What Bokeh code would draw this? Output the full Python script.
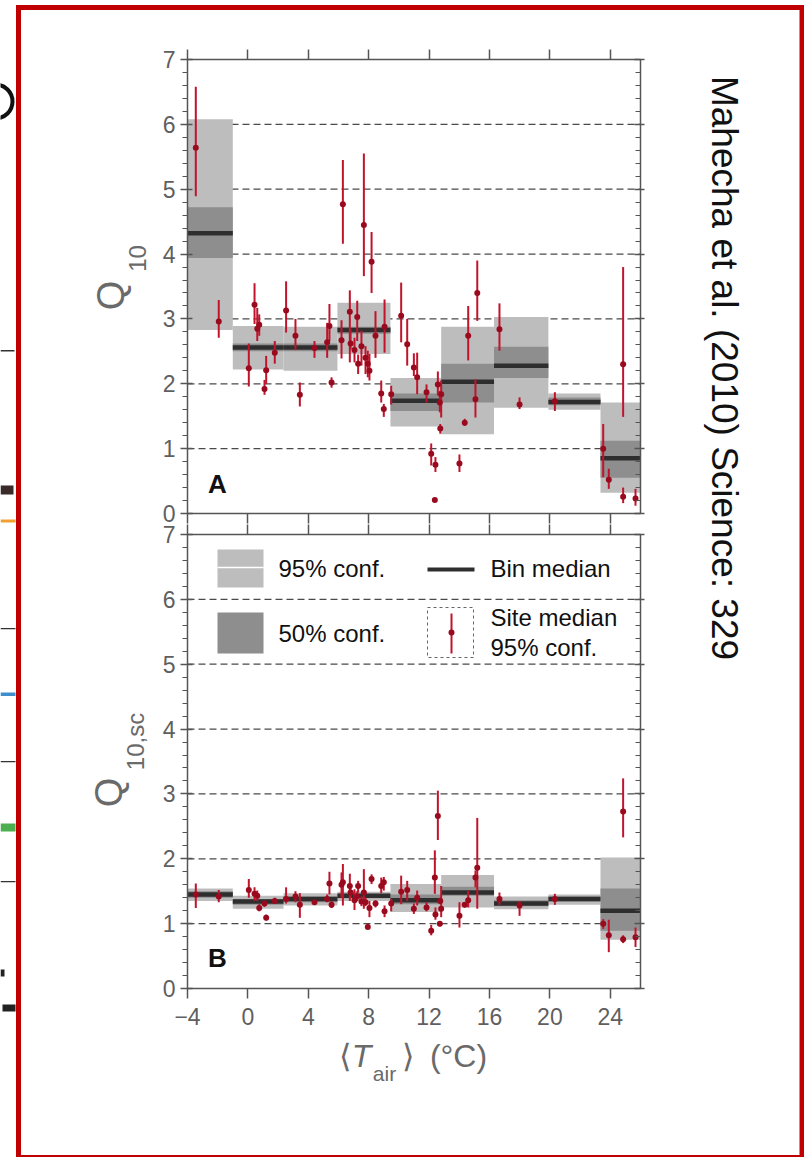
import math
from bokeh.plotting import figure
from bokeh.models import Range1d, LinearAxis, SingleIntervalTicker, FixedTicker, Label
from bokeh.embed import file_html
from bokeh.resources import INLINE

# ---------------- data ----------------
bin_edges = [-4.0, -1.0, 2.36, 5.93, 9.44, 12.8, 16.3, 19.9, 23.35, 26.0]

A_lo95 = [2.83, 2.22, 2.20, 2.46, 1.34, 1.22, 1.63, 1.60, 0.32]
A_hi95 = [6.08, 2.89, 2.88, 3.25, 2.09, 2.88, 3.03, 1.85, 1.71]
A_lo50 = [3.94, 2.50, 2.50, 2.77, 1.58, 1.71, 2.09, 1.67, 0.55]
A_hi50 = [4.72, 2.62, 2.62, 2.88, 1.85, 2.31, 2.57, 1.79, 1.12]
A_med = [4.32, 2.56, 2.56, 2.83, 1.74, 2.03, 2.28, 1.72, 0.85]

B_lo95 = [1.35, 1.23, 1.28, 1.35, 1.18, 1.25, 1.22, 1.29, 0.75]
B_hi95 = [1.54, 1.43, 1.47, 1.49, 1.61, 1.75, 1.42, 1.45, 2.02]
B_lo50 = [1.40, 1.29, 1.33, 1.39, 1.30, 1.43, 1.27, 1.34, 0.89]
B_hi50 = [1.50, 1.38, 1.42, 1.46, 1.45, 1.57, 1.36, 1.42, 1.54]
B_med = [1.45, 1.34, 1.38, 1.43, 1.36, 1.48, 1.31, 1.38, 1.20]

site_T = [-3.45, -1.93, 0.06, 0.44, 0.62, 0.75, 1.10, 1.21, 1.78, 2.53,
          3.15, 3.44, 4.41, 5.25, 5.40, 5.54, 6.20, 6.29, 6.75, 6.80,
          7.06, 7.24, 7.30, 7.52, 7.68, 7.79, 7.94, 8.05, 8.19, 8.45,
          8.83, 9.00, 9.05, 9.49, 10.15, 10.55, 10.99, 11.21, 11.83, 12.14,
          12.38, 12.42, 12.58, 12.71, 12.74, 12.80, 14.01, 14.36, 14.59, 15.07,
          15.19, 16.66, 17.99, 20.33, 23.53, 23.90, 24.85, 24.85, 25.67]

siteA_med = [5.64, 2.96, 2.24, 3.22, 2.85, 2.91, 1.92, 2.21, 2.48, 3.13,
             2.74, 1.83, 2.55, 2.64, 2.89, 2.02, 2.67, 4.77, 3.11, 2.62,
             2.52, 3.03, 2.31, 2.58, 4.45, 2.40, 2.31, 2.20, 3.88, 2.74,
             1.85, 1.61, 2.88, 1.84, 3.05, 2.61, 2.25, 2.10, 1.87, 0.92,
             0.21, 0.75, 1.99, 1.71, 1.31, 1.84, 0.77, 1.40, 2.74, 1.76,
             3.40, 2.84, 1.68, 1.73, 1.00, 0.52, 2.30, 0.26, 0.23]
siteA_lo = [4.89, 2.71, 1.96, 2.92, 2.66, 2.74, 1.83, 2.00, 2.31, 2.79,
            2.52, 1.65, 2.40, 2.40, 2.66, 1.94, 2.39, 4.16, 2.33, 2.53,
            2.33, 2.66, 2.15, 2.28, 3.66, 2.15, 2.10, 2.05, 3.40, 2.40,
            1.71, 1.49, 2.48, 1.68, 2.64, 2.28, 2.12, 1.84, 1.71, 0.74,
            0.19, 0.64, 1.82, 1.56, 1.23, 1.48, 0.64, 1.35, 2.36, 1.48,
            2.97, 2.51, 1.61, 1.58, 0.56, 0.38, 1.49, 0.16, 0.12]
siteA_hi = [6.58, 3.29, 2.62, 3.55, 3.17, 3.07, 2.06, 2.43, 2.66, 3.58,
            3.00, 2.02, 2.66, 2.94, 3.23, 2.10, 2.98, 5.45, 3.44, 2.84,
            2.71, 3.28, 2.45, 2.82, 5.55, 2.58, 2.51, 2.46, 4.34, 3.12,
            2.05, 1.69, 3.30, 1.97, 3.56, 3.00, 2.47, 2.48, 1.99, 1.08,
            0.23, 0.87, 2.19, 1.89, 1.38, 2.05, 0.91, 1.46, 3.20, 2.07,
            3.90, 3.24, 1.79, 1.87, 1.38, 0.69, 3.80, 0.40, 0.38]

siteB_med = [1.45, 1.42, 1.52, 1.46, 1.43, 1.24, 1.31, 1.09, 1.35, 1.38,
             1.42, 1.29, 1.33, 1.38, 1.62, 1.29, 1.60, 1.64, 1.58, 1.48,
             1.36, 1.42, 1.58, 1.34, 1.48, 1.33, 0.95, 1.24, 1.69, 1.31,
             1.58, 1.64, 1.19, 1.31, 1.49, 1.52, 1.23, 1.40, 1.25, 0.89,
             1.71, 1.14, 2.66, 1.00, 1.35, 1.23, 1.12, 1.29, 1.36, 1.71,
             1.86, 1.38, 1.28, 1.38, 1.00, 0.82, 2.73, 0.76, 0.79]
siteB_lo = [1.24, 1.33, 1.40, 1.35, 1.35, 1.19, 1.26, 1.05, 1.31, 1.31,
            1.33, 1.09, 1.29, 1.33, 1.45, 1.24, 1.40, 1.28, 1.35, 1.40,
            1.21, 1.35, 1.48, 1.27, 1.23, 1.27, 0.92, 1.10, 1.61, 1.25,
            1.47, 1.51, 1.10, 1.19, 1.30, 1.35, 1.15, 1.28, 1.19, 0.82,
            1.46, 1.06, 2.29, 0.96, 1.30, 1.10, 0.94, 1.25, 1.25, 1.56,
            1.23, 1.29, 1.12, 1.29, 0.92, 0.56, 2.33, 0.70, 0.64]
siteB_hi = [1.62, 1.52, 1.69, 1.56, 1.51, 1.30, 1.35, 1.14, 1.40, 1.56,
            1.50, 1.47, 1.37, 1.45, 1.80, 1.35, 1.79, 1.92, 1.77, 1.56,
            1.53, 1.50, 1.66, 1.42, 1.84, 1.40, 1.00, 1.35, 1.76, 1.36,
            1.71, 1.72, 1.28, 1.38, 1.74, 1.66, 1.31, 1.51, 1.33, 0.98,
            2.13, 1.25, 3.05, 1.04, 1.40, 1.58, 1.33, 1.33, 1.51, 1.82,
            2.63, 1.48, 1.35, 1.46, 1.07, 1.06, 3.24, 0.82, 0.94]

x_ticks = [-4, 0, 4, 8, 12, 16, 20, 24]
x_tick_labels = {-4: "\u22124"}
grid_y = [1, 2, 3, 4, 5, 6]
citation = "Mahecha et al. (2010) Science: 329"

# ---------------- layout / style ----------------
W, H = 804, 1157
FONT = "Liberation Sans"
AX = "#555555"
TICKLAB = "#5f5f5f"
TITLE_GREY = "#6a6a6a"
RED_LINE = "#c0142c"
RED_DOT = "#9a0a1e"
G95 = "#bdbdbd"
G50 = "#8e8e8e"
GMED = "#2e2e2e"
FRAME_RED = "#c00000"

X0, X1 = 187, 640           # pixel columns of T = -4 and T = 26
A_TOP, A_BOT = 59, 513      # pixel rows of panel A (Q = 7 and Q = 0)
B_TOP, B_BOT = 534, 988     # pixel rows of panel B


def xd(px):
    return -4 + (px - X0) * 30.0 / (X1 - X0)


def ydA(py):
    return 7 - (py - A_TOP) * 7.0 / (A_BOT - A_TOP)


def ydB(py):
    return 7 - (py - B_TOP) * 7.0 / (B_BOT - B_TOP)


p = figure(width=W, height=H,
           x_range=Range1d(xd(0), xd(W)), y_range=Range1d(ydB(H), ydB(0)),
           output_backend="svg", toolbar_location=None,
           x_axis_location=None, y_axis_location=None,
           min_border_left=0, min_border_right=0, min_border_top=0, min_border_bottom=0)
p.extra_y_ranges = {"A": Range1d(ydA(H), ydA(0)), "py": Range1d(H, 0)}
p.extra_x_ranges = {"px": Range1d(0, W)}
p.outline_line_color = None
p.grid.visible = False
p.background_fill_color = "white"
p.border_fill_color = "white"

# ---------- decoration: neighbouring slide fragments and red frame ----------
frag_l = [0, 0, 0, 0, 0, 0, 0, 0, 0, 2]
frag_r = [14, 13, 15, 15, 15, 15, 15, 15, 4, 15]
frag_t = [349.5, 485, 519, 627.5, 692, 760.5, 823, 880.5, 969, 1004]
frag_b = [351, 494, 522, 628.8, 695.5, 761.8, 831, 881.8, 976, 1011]
frag_c = ["#333333", "#3a2a2a", "#f0a030", "#333333", "#3d8fd0", "#333333",
          "#4caf50", "#333333", "#222222", "#222222"]
p.quad(left=frag_l, right=frag_r, top=frag_t, bottom=frag_b, fill_color=frag_c,
       line_color=None, x_range_name="px", y_range_name="py")
p.arc(x=[-5], y=[101], radius=17, start_angle=-math.pi / 2, end_angle=math.pi / 2,
      line_color="#111111", line_width=4, x_range_name="px", y_range_name="py")

p.quad(left=[15.5, 15.5, 799, 15.5], right=[20.5, 805, 805, 805],
       top=[4.5, 4.5, 4.5, 1154.5], bottom=[1158, 9.5, 1158, 1158],
       fill_color=FRAME_RED, line_color=None, x_range_name="px", y_range_name="py")

p.add_layout(Label(x=724, y=367.5, text=citation, angle=-math.pi / 2,
                   x_range_name="px", y_range_name="py",
                   text_font=FONT, text_font_size="37px", text_color="#111111",
                   text_align="center", text_baseline="middle"))


# ---------- axes ----------
def style(ax):
    ax.axis_line_color = AX
    ax.axis_line_width = 1.5
    ax.major_tick_line_color = AX
    ax.minor_tick_line_color = AX
    ax.major_tick_line_width = 1.5
    ax.minor_tick_line_width = 1.2
    ax.major_label_text_font = FONT
    ax.major_label_text_color = TICKLAB
    ax.major_label_text_font_size = "23px"


def hide_labels(ax):
    ax.major_label_text_color = None
    ax.major_label_standoff = 0


def add_axes(rname, bottom_labels):
    kw = {} if rname is None else {"y_range_name": rname}

    left = LinearAxis(ticker=SingleIntervalTicker(interval=1, num_minor_ticks=5),
                      fixed_location=-4, bounds=(0, 7), **kw)
    style(left)
    left.major_tick_out = 7
    left.major_tick_in = 5
    left.minor_tick_out = 5
    left.minor_tick_in = 0
    left.major_label_standoff = 5
    p.add_layout(left, "left")

    right = LinearAxis(ticker=SingleIntervalTicker(interval=1, num_minor_ticks=5),
                       fixed_location=26, bounds=(0, 7), **kw)
    style(right)
    right.major_tick_in = 6
    right.major_tick_out = 4
    right.minor_tick_in = 5
    right.minor_tick_out = 0
    hide_labels(right)
    p.add_layout(right, "right")

    top = LinearAxis(ticker=FixedTicker(ticks=x_ticks, minor_ticks=[]),
                     fixed_location=7, bounds=(-4, 26), **kw)
    style(top)
    top.major_tick_out = 10
    top.major_tick_in = 0
    hide_labels(top)
    p.add_layout(top, "above")

    bot = LinearAxis(ticker=FixedTicker(ticks=x_ticks, minor_ticks=[]),
                     fixed_location=0, bounds=(-4, 26), **kw)
    style(bot)
    bot.major_tick_out = 10
    bot.major_tick_in = 0
    if bottom_labels:
        bot.major_label_standoff = 9
        bot.major_label_overrides = x_tick_labels
    else:
        hide_labels(bot)
    p.add_layout(bot, "below")


def draw_panel(rname, lo95, hi95, lo50, hi50, med, s_med, s_lo, s_hi):
    kw = {} if rname is None else {"y_range_name": rname}
    n = len(grid_y)
    p.segment(x0=[-4] * n, x1=[26] * n, y0=grid_y, y1=grid_y, line_color="#4a4a4a",
              line_width=1.3, line_dash="7 4", **kw)
    p.quad(left=bin_edges[:-1], right=bin_edges[1:], bottom=lo95, top=hi95,
           fill_color=G95, line_color=None, **kw)
    p.quad(left=bin_edges[:-1], right=bin_edges[1:], bottom=lo50, top=hi50,
           fill_color=G50, line_color=None, **kw)
    p.segment(x0=bin_edges[:-1], x1=bin_edges[1:], y0=med, y1=med,
              line_color=GMED, line_width=4.5, **kw)
    p.segment(x0=site_T, x1=site_T, y0=s_lo, y1=s_hi, line_color=RED_LINE,
              line_width=2, **kw)
    p.scatter(x=site_T, y=s_med, size=6, fill_color=RED_DOT, line_color=None, **kw)


# ---------------- panel A ----------------
draw_panel("A", A_lo95, A_hi95, A_lo50, A_hi50, A_med, siteA_med, siteA_lo, siteA_hi)
add_axes("A", False)

p.add_layout(Label(x=xd(110), y=ydA(295), text="Q", angle=math.pi / 2, y_range_name="A",
                   text_font=FONT, text_font_size="38px", text_color=TITLE_GREY,
                   text_align="center", text_baseline="middle"))
p.add_layout(Label(x=xd(137), y=ydA(258), text="10", angle=math.pi / 2, y_range_name="A",
                   text_font=FONT, text_font_size="24px", text_color=TITLE_GREY,
                   text_align="center", text_baseline="middle"))
p.add_layout(Label(x=xd(217), y=ydA(483), text="A", y_range_name="A", text_font=FONT,
                   text_font_size="26px", text_font_style="bold", text_color="#111111",
                   text_align="center", text_baseline="middle"))

# ---------------- panel B ----------------
draw_panel(None, B_lo95, B_hi95, B_lo50, B_hi50, B_med, siteB_med, siteB_lo, siteB_hi)
add_axes(None, True)

# legend
p.quad(left=[xd(217)], right=[xd(263)], top=[ydB(549)], bottom=[ydB(587)],
       fill_color=G95, line_color=None)
p.segment(x0=[xd(217)], x1=[xd(263)], y0=[ydB(567)], y1=[ydB(567)],
          line_color="white", line_width=1.5)
p.quad(left=[xd(217)], right=[xd(263)], top=[ydB(612)], bottom=[ydB(653)],
       fill_color=G50, line_color=None)
p.segment(x0=[xd(427)], x1=[xd(474)], y0=[ydB(569)], y1=[ydB(569)],
          line_color=GMED, line_width=4)
p.quad(left=[xd(427)], right=[xd(473)], top=[ydB(607)], bottom=[ydB(657)],
       fill_color=None, line_color="#666666", line_width=1, line_dash="3 3")
p.segment(x0=[xd(451)], x1=[xd(451)], y0=[ydB(613)], y1=[ydB(653)],
          line_color=RED_LINE, line_width=2)
p.scatter(x=[xd(451)], y=[ydB(632)], size=6, fill_color=RED_DOT, line_color=None)

for txt, px, py in [("95% conf.", 278, 568), ("50% conf.", 278, 633),
                    ("Bin median", 490, 568), ("Site median", 490, 617),
                    ("95% conf.", 490, 647)]:
    p.add_layout(Label(x=xd(px), y=ydB(py), text=txt, text_font=FONT,
                       text_font_size="24px", text_color="#111111",
                       text_align="left", text_baseline="middle"))

p.add_layout(Label(x=xd(108), y=ydB(792), text="Q", angle=math.pi / 2,
                   text_font=FONT, text_font_size="38px", text_color=TITLE_GREY,
                   text_align="center", text_baseline="middle"))
p.add_layout(Label(x=xd(135), y=ydB(741), text="10,sc", angle=math.pi / 2,
                   text_font=FONT, text_font_size="24px", text_color=TITLE_GREY,
                   text_align="center", text_baseline="middle"))
p.add_layout(Label(x=xd(217), y=ydB(957), text="B", text_font=FONT,
                   text_font_size="26px", text_font_style="bold", text_color="#111111",
                   text_align="center", text_baseline="middle"))

# x axis title  <T_air> (°C)
for txt, px, py, size, fstyle in [("\u27e8", 344, 1055, "32px", "normal"),
                                  ("T", 361, 1055, "32px", "italic"),
                                  ("air", 384, 1073, "21px", "normal"),
                                  ("\u27e9", 407, 1055, "32px", "normal"),
                                  ("(\u00b0C)", 458, 1055, "32px", "normal")]:
    p.add_layout(Label(x=xd(px), y=ydB(py), text=txt, text_font=FONT,
                       text_font_size=size, text_font_style=fstyle, text_color=TITLE_GREY,
                       text_align="center", text_baseline="middle"))

open("out.html", "w").write(file_html(p, INLINE))
